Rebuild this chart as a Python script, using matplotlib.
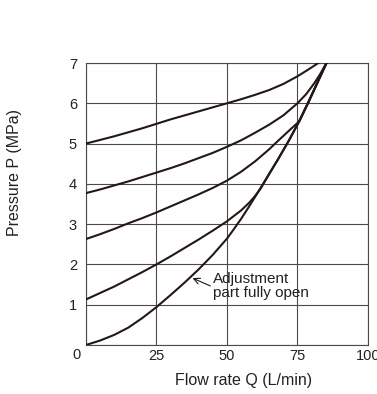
import matplotlib
matplotlib.use("Agg")
from matplotlib import pyplot as plt

plt.rcParams['font.family'] = ['Liberation Sans', 'DejaVu Sans']

# curve data (flow rate L/min, pressure MPa)
q1 = [0, 5, 10, 15, 20, 25, 30, 35, 40, 45, 50, 55, 60, 65, 70, 75, 78, 80, 82.4]
p1 = [5.0, 5.09, 5.18, 5.28, 5.38, 5.49, 5.6, 5.7, 5.8, 5.9, 6.0, 6.1, 6.21, 6.33, 6.48, 6.67, 6.8, 6.89, 7.0]

q2 = [0, 5, 10, 15, 20, 25, 30, 35, 40, 45, 50, 55, 60, 65, 70, 75, 78, 81, 83, 85.3]
p2 = [3.77, 3.86, 3.96, 4.06, 4.17, 4.28, 4.39, 4.51, 4.64, 4.77, 4.92, 5.08, 5.27, 5.47, 5.7, 6.0, 6.22, 6.5, 6.72, 7.0]

q3 = [0, 5, 10, 15, 20, 25, 30, 35, 40, 45, 50, 55, 60, 65, 68, 72, 75.6, 78.7, 82, 85.3]
p3 = [2.63, 2.75, 2.88, 3.02, 3.15, 3.29, 3.44, 3.59, 3.74, 3.9, 4.08, 4.3, 4.56, 4.86, 5.06, 5.32, 5.55, 6.0, 6.5, 7.0]

q4 = [0, 5, 10, 15, 20, 25, 30, 35, 40, 45, 50, 55, 58, 60, 62, 64, 65, 68.2, 72, 75.6, 78.7, 82, 85.3]
p4 = [1.13, 1.29, 1.45, 1.63, 1.81, 2.0, 2.2, 2.41, 2.62, 2.84, 3.07, 3.34, 3.54, 3.7, 3.89, 4.13, 4.25, 4.62, 5.08, 5.55, 6.0, 6.5, 7.0]

# adjustment part fully open
q5 = [0, 5, 10, 15, 20, 25, 30, 35, 40, 45, 50, 52.5, 55, 57.5, 60, 62.3, 65, 68.2, 72, 75.6, 78.7, 82, 85.3]
p5 = [0, 0.11, 0.25, 0.43, 0.67, 0.94, 1.24, 1.55, 1.88, 2.24, 2.64, 2.88, 3.13, 3.4, 3.68, 3.94, 4.25, 4.62, 5.08, 5.55, 6.0, 6.5, 7.0]

xticks = [0, 25, 50, 75, 100]
xlabels = ['', '25', '50', '75', '100']
yticks = [0, 1, 2, 3, 4, 5, 6, 7]
ylabels = ['', '1', '2', '3', '4', '5', '6', '7']

ink = '#231815'
gridc = '#4a4a4a'
txt = '#222222'

fig = plt.figure(figsize=(3.77, 3.94), dpi=100)
ax = fig.add_axes([0.228, 0.1244, 0.748, 0.7157])

for q, p in [(q1, p1), (q2, p2), (q3, p3), (q4, p4), (q5, p5)]:
	ax.plot(q, p, color=ink, lw=1.5, solid_joinstyle='round', zorder=3)

ax.set_xlim(0, 100)
ax.set_ylim(0, 7)
ax.set_xticks(xticks)
ax.set_xticklabels(xlabels)
ax.set_yticks(yticks)
ax.set_yticklabels(ylabels)
ax.tick_params(length=0, labelsize=10.5, colors=txt)
ax.tick_params(axis='x', pad=3)
ax.tick_params(axis='y', pad=6.5)
ax.grid(True, color=gridc, lw=0.8)
for s in ax.spines.values():
	s.set_color(gridc)
	s.set_linewidth(0.8)

ax.text(-0.032, -0.012, '0', transform=ax.transAxes, ha='center', va='top',
	fontsize=10.5, color=txt)

ax.set_xlabel("Flow rate Q (L/min)", fontsize=11.5, color=txt)
ax.xaxis.set_label_coords(0.559, -0.1)
ax.set_ylabel("Pressure P (MPa)", fontsize=11.5, color=txt)
ax.yaxis.set_label_coords(-0.227, 0.612)

ax.annotate("Adjustment\npart fully open", xy=(37.8, 1.66), xytext=(45.1, 1.47),
	fontsize=11, color=txt, ha='left', va='center', linespacing=0.98,
	arrowprops=dict(arrowstyle='->', color=ink, lw=0.8, shrinkA=0, shrinkB=0,
		relpos=(0, 0.45)))

plt.savefig("out.png", dpi=100)
